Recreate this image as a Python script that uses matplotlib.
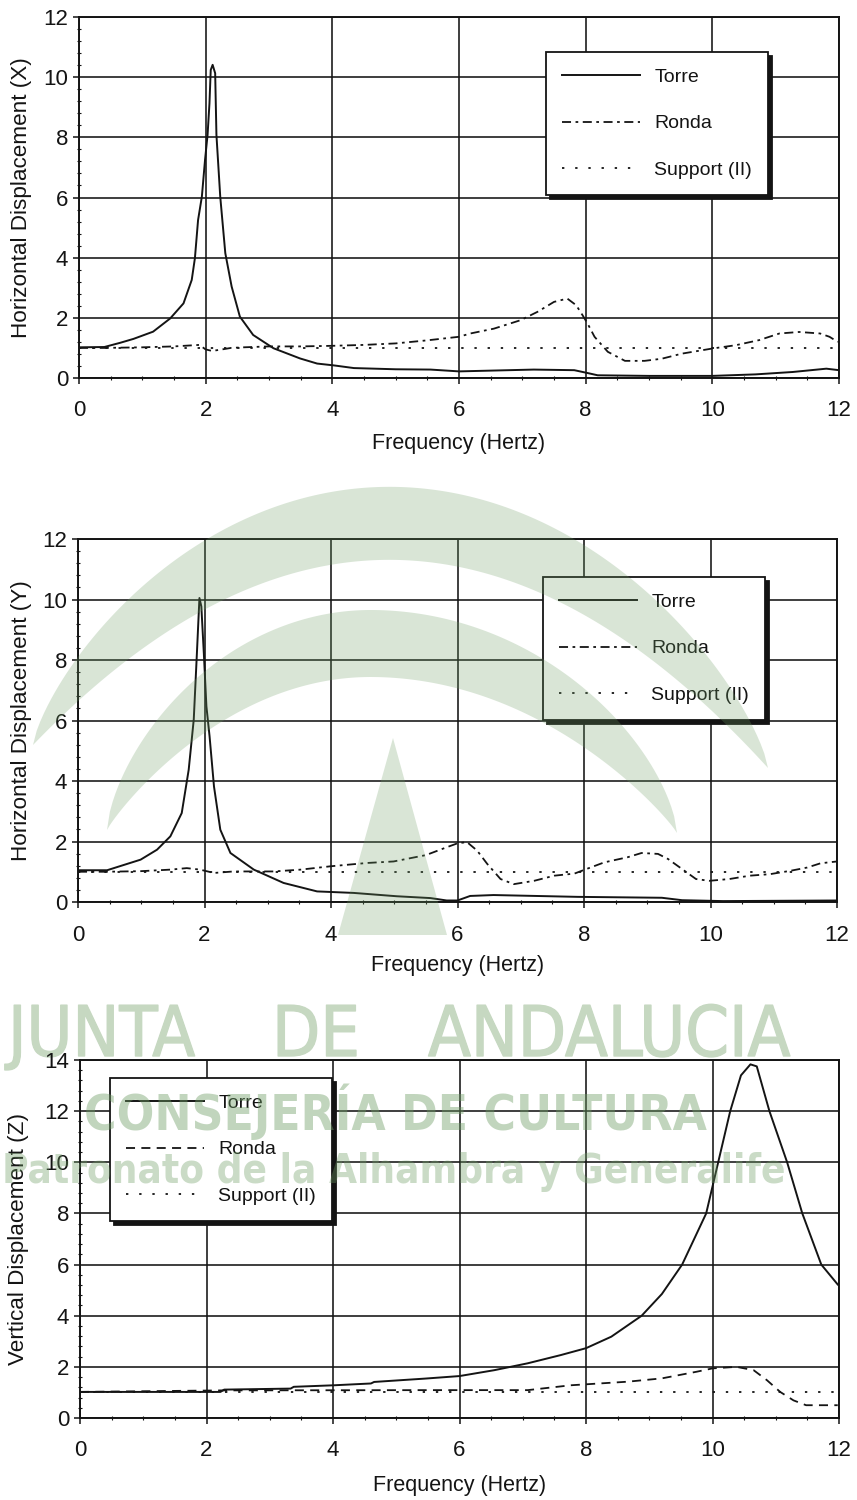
import numpy as np
import matplotlib
matplotlib.use("Agg")
import matplotlib.pyplot as plt
from matplotlib import font_manager
from matplotlib import patheffects
from matplotlib.font_manager import FontProperties
from matplotlib.patches import Polygon
from matplotlib.ticker import MultipleLocator

plt.rcParams['font.family'] = ['Liberation Sans', 'DejaVu Sans']

# ---------------- data ----------------
freq_ticks = [0, 2, 4, 6, 8, 10, 12]
xy_ticks = [0, 2, 4, 6, 8, 10, 12]
z_ticks = [0, 2, 4, 6, 8, 10, 12, 14]
series_labels = ["Torre", "Ronda", "Support (II)"]
x_label = "Frequency (Hertz)"
y_labels = ["Horizontal Displacement (X)", "Horizontal Displacement (Y)",
            "Vertical Displacement (Z)"]

# Panel X
x1_torre = [0.0, 0.40, 0.65, 0.86, 1.17, 1.44, 1.65, 1.78, 1.83, 1.88, 1.94, 1.99, 2.03, 2.06,
            2.08, 2.11, 2.15, 2.17, 2.23, 2.31, 2.41, 2.54, 2.75, 3.07, 3.49, 3.76, 4.02, 4.34,
            5.00, 5.55, 6.00, 7.18, 7.82, 8.02, 8.19, 9.00, 10.00, 10.68, 11.27, 11.80, 12.00]
y1_torre = [1.02, 1.03, 1.17, 1.30, 1.54, 1.98, 2.48, 3.26, 3.98, 5.25, 6.03, 7.25, 8.08, 9.13,
            10.24, 10.41, 10.13, 8.08, 6.03, 4.15, 3.04, 2.04, 1.43, 0.99, 0.65, 0.48, 0.42, 0.33,
            0.29, 0.28, 0.22, 0.28, 0.26, 0.17, 0.09, 0.07, 0.07, 0.12, 0.20, 0.31, 0.26]
x1_ronda = [0.0, 0.40, 1.00, 1.50, 1.90, 2.00, 2.10, 2.23, 2.40, 2.60, 3.00, 3.50, 4.00, 4.50,
            5.00, 5.49, 6.00, 6.18, 6.55, 6.97, 7.24, 7.50, 7.71, 7.85, 7.95, 8.03, 8.14, 8.35,
            8.62, 8.93, 9.20, 9.52, 10.00, 10.37, 10.74, 11.06, 11.37, 11.70, 11.85, 11.98]
y1_ronda = [1.00, 1.00, 1.02, 1.05, 1.10, 0.95, 0.90, 0.94, 1.00, 1.02, 1.05, 1.05, 1.07, 1.10,
            1.15, 1.25, 1.37, 1.48, 1.64, 1.92, 2.20, 2.53, 2.64, 2.42, 2.09, 1.81, 1.37, 0.87,
            0.57, 0.57, 0.64, 0.81, 0.98, 1.09, 1.26, 1.48, 1.53, 1.48, 1.37, 1.20]
x1_support = [0.0, 12.0]
y1_support = [1.0, 1.0]

# Panel Y
x2_torre = [0.0, 0.46, 0.99, 1.25, 1.46, 1.64, 1.75, 1.83, 1.88, 1.92, 1.95, 1.99, 2.03, 2.08,
            2.15, 2.25, 2.41, 2.78, 3.25, 3.78, 4.36, 5.04, 5.57, 5.83, 6.00, 6.20, 6.57, 7.90,
            9.23, 9.55, 10.20, 12.00]
y2_torre = [1.05, 1.05, 1.40, 1.73, 2.17, 2.94, 4.37, 6.03, 8.23, 10.05, 9.77, 8.20, 6.47, 5.48,
            3.82, 2.39, 1.62, 1.07, 0.63, 0.35, 0.30, 0.19, 0.13, 0.05, 0.05, 0.20, 0.23, 0.17,
            0.14, 0.06, 0.03, 0.05]
x2_ronda = [0.0, 0.45, 1.00, 1.46, 1.72, 1.93, 2.15, 2.46, 3.09, 3.52, 3.99, 4.57, 4.99, 5.50,
            5.83, 6.00, 6.15, 6.31, 6.47, 6.68, 6.89, 7.21, 7.53, 7.85, 8.00, 8.32, 8.69, 8.91,
            9.17, 9.33, 9.55, 9.77, 9.98, 10.30, 10.62, 10.94, 11.26, 11.53, 11.74, 12.00]
y2_ronda = [1.00, 1.00, 1.02, 1.07, 1.12, 1.07, 0.96, 1.01, 1.01, 1.07, 1.18, 1.29, 1.34, 1.55,
            1.81, 1.94, 1.98, 1.70, 1.26, 0.76, 0.59, 0.70, 0.87, 0.94, 1.06, 1.31, 1.48, 1.62,
            1.59, 1.42, 1.09, 0.76, 0.70, 0.76, 0.87, 0.92, 1.03, 1.14, 1.28, 1.34]
x2_support = [0.0, 12.0]
y2_support = [1.0, 1.0]

# Panel Z
x3_torre = [0.0, 2.22, 2.28, 3.33, 3.38, 4.02, 4.60, 4.65, 5.08, 5.45, 6.00, 6.55, 7.08, 7.60,
            8.00, 8.40, 8.88, 9.20, 9.52, 9.90, 10.09, 10.28, 10.45, 10.60, 10.70, 10.90, 11.18,
            11.42, 11.72, 11.98]
y3_torre = [1.02, 1.02, 1.11, 1.15, 1.22, 1.28, 1.35, 1.41, 1.48, 1.54, 1.64, 1.87, 2.14, 2.46,
            2.73, 3.18, 4.00, 4.85, 6.00, 8.00, 10.00, 12.00, 13.40, 13.83, 13.75, 12.00, 10.00,
            8.00, 6.00, 5.22]
x3_ronda = [0.0, 2.28, 5.50, 7.08, 7.76, 8.66, 9.20, 9.75, 10.00, 10.38, 10.65, 10.86, 11.07,
            11.28, 11.48, 11.98]
y3_ronda = [1.02, 1.08, 1.09, 1.09, 1.28, 1.42, 1.55, 1.81, 1.94, 2.00, 1.87, 1.48, 1.02, 0.69,
            0.50, 0.50]
x3_support = [0.0, 12.0]
y3_support = [1.0, 1.0]

wm_title_words = ["JUNTA", "DE", "ANDALUCIA"]
wm_sub = "CONSEJERÍA DE CULTURA"
wm_sub2 = "Patronato de la Alhambra y Generalife"

# ---------------- figure ----------------
W, H = 857, 1500
fig = plt.figure(figsize=(W / 100, H / 100), dpi=100)
fig.patch.set_facecolor('white')
INK = '#141414'


def rect(x0, x1, ytop, ybot):
    return [x0 / W, 1 - ybot / H, (x1 - x0) / W, (ybot - ytop) / H]


panels = [
    dict(box=(79, 839, 17, 378), yt=xy_ticks,
         data=[(x1_torre, y1_torre), (x1_ronda, y1_ronda), (x1_support, y1_support)],
         ronda_ls=(0, (5, 2.5, 1.5, 2.5)), leg=(546, 52), xl_off=65, yl_x=22),
    dict(box=(78, 837, 539, 902), yt=xy_ticks,
         data=[(x2_torre, y2_torre), (x2_ronda, y2_ronda), (x2_support, y2_support)],
         ronda_ls=(0, (5, 2.5, 1.5, 2.5)), leg=(543, 577), xl_off=63, yl_x=22),
    dict(box=(80, 839, 1060, 1418), yt=z_ticks,
         data=[(x3_torre, y3_torre), (x3_ronda, y3_ronda), (x3_support, y3_support)],
         ronda_ls=(0, (5, 3.5)), leg=(110, 1078), xl_off=67, yl_x=19),
]

for i, p in enumerate(panels):
    x0, x1, yt_, yb_ = p['box']
    ax = fig.add_axes(rect(x0, x1, yt_, yb_))
    wpx, hpx = x1 - x0, yb_ - yt_
    (xt, yt), (xr, yr), (xs, ys) = p['data']
    l1, = ax.plot(xt, yt, color=INK, lw=1.4, ls='-', label=series_labels[0], zorder=4)
    l2, = ax.plot(xr, yr, color=INK, lw=1.3, ls=p['ronda_ls'], label=series_labels[1], zorder=4)
    l3, = ax.plot(xs, ys, color=INK, lw=1.3, ls=(0, (1.3, 6)), label=series_labels[2], zorder=3)
    ax.set_xlim(0, 12)
    ax.set_ylim(p['yt'][0], p['yt'][-1])
    ax.set_xticks(freq_ticks)
    ax.set_yticks(p['yt'])
    ax.xaxis.set_minor_locator(MultipleLocator(0.5))
    ax.yaxis.set_minor_locator(MultipleLocator(0.4))
    ax.grid(True, which='major', color=INK, lw=1.15)
    ax.set_axisbelow(True)
    for s in ax.spines.values():
        s.set_linewidth(1.4)
        s.set_color(INK)
    ax.tick_params(axis='both', which='major', direction='out', length=4.2, width=1.1,
                   color=INK, labelsize=16, labelcolor=INK)
    ax.tick_params(axis='x', which='major', pad=12)
    ax.tick_params(axis='y', which='major', pad=3.5)
    ax.tick_params(axis='both', which='minor', direction='inout', length=2.5, width=0.8,
                   color=INK)
    ax.set_xlabel(x_label, fontsize=15.5, color=INK)
    ax.set_ylabel(y_labels[i], fontsize=16.2, color=INK)
    ax.xaxis.set_label_coords(0.5, -p['xl_off'] / hpx)
    ax.xaxis.label.set_va('center')
    ax.yaxis.set_label_coords((p['yl_x'] - x0) / wpx, 0.5)
    ax.yaxis.label.set_va('center')

    lx, ly = p['leg']
    leg = ax.legend(handles=[l1, l2, l3], loc='upper left',
                    bbox_to_anchor=(lx / W, 1 - ly / H), bbox_transform=fig.transFigure,
                    borderaxespad=0, fontsize=14, handlelength=4.0, handletextpad=0.75,
                    labelspacing=1.5, borderpad=0.82, fancybox=False, framealpha=1,
                    edgecolor=INK, facecolor='white',
                    shadow={'ox': 3, 'oy': -3, 'color': INK, 'alpha': 1})
    leg.get_frame().set_linewidth(1.3)
    for t in leg.get_texts():
        t.set_color(INK)
    leg.set_zorder(6)

# ---------------- watermark (logo + text) ----------------
GREEN = '#6d9c63'


def to_fig(xs, ys):
    return np.column_stack([np.asarray(xs) / W, 1 - np.asarray(ys) / H])


def crescent(xl, yl, xr, yr, xc, top_o, top_i, p_o, p_i, n=200):
    xs = np.linspace(xl, xr, n)
    base = yl + (xs - xl) / (xr - xl) * (yr - yl)
    basec = yl + (xc - xl) / (xr - xl) * (yr - yl)
    a = np.where(xs < xc, xc - xl, xr - xc)
    t = np.clip((xs - xc) / a, -1, 1)
    f = 1 - t ** 2
    yo = base - (basec - top_o) * f ** p_o
    yi = base - (basec - top_i) * f ** p_i
    px = np.concatenate([xs, xs[::-1]])
    py = np.concatenate([yo, yi[::-1]])
    return to_fig(px, py)


for pts in [crescent(33, 745, 768, 768, 400, 487, 560, 0.75, 1.0),
            crescent(107, 830, 677, 833, 372, 610, 677, 0.65, 0.9)]:
    fig.add_artist(Polygon(pts, closed=True, transform=fig.transFigure, facecolor=GREEN,
                           edgecolor='none', alpha=0.26, zorder=20))
fig.add_artist(Polygon(to_fig([393, 447, 338], [738, 935, 935]), closed=True,
                       transform=fig.transFigure, facecolor=GREEN, edgecolor='none',
                       alpha=0.26, zorder=20))


def pick_font(target_weight):
    cands = []
    for f in font_manager.fontManager.ttflist:
        nm = f.name
        st = str(f.stretch)
        cond = ('Narrow' in nm or 'Condensed' in nm or
                st in ('condensed', 'semi-condensed', 'extra-condensed', 'ultra-condensed'))
        if not cond or f.style != 'normal':
            continue
        try:
            wt = int(f.weight)
        except Exception:
            wt = 700 if 'bold' in str(f.weight) else 400
        cands.append((abs(wt - target_weight), f.fname))
    if cands:
        cands.sort()
        return FontProperties(fname=cands[0][1])
    return FontProperties(family='Liberation Sans',
                          weight='bold' if target_weight >= 600 else 'normal')


renderer = fig.canvas.get_renderer()


def fit_text(s, xl, xr, base_y, fp, alpha):
    t = fig.text(xl / W, 1 - base_y / H, s, ha='left', va='baseline', color=GREEN,
                 alpha=alpha, fontproperties=fp, zorder=21)
    t.set_fontsize(40)
    bb = t.get_window_extent(renderer=renderer)
    t.set_fontsize(40 * (xr - xl) / bb.width)
    return t


# big title: words spaced as in the logo, drawn behind the charts
fp_title = pick_font(400)
JCOL = '#c6d8c1'
probe = fig.text(0, 0, wm_title_words[2], fontproperties=fp_title, fontsize=40)
wprobe = probe.get_window_extent(renderer=renderer).width
probe.remove()
title_fs = 40 * (790 - 428) / wprobe
for word, xl in zip(wm_title_words, [8, 272, 428]):
    fig.text(xl / W, 1 - 1056 / H, word, ha='left', va='baseline', color=JCOL,
             fontproperties=fp_title, fontsize=title_fs, zorder=-1,
             path_effects=[patheffects.withStroke(linewidth=1.0, foreground=JCOL)])

fit_text(wm_sub, 84, 705, 1130, pick_font(700), 0.42)
fit_text(wm_sub2, 2, 786, 1183, pick_font(700), 0.36)

fig.savefig("out.png", dpi=100, facecolor='white')
